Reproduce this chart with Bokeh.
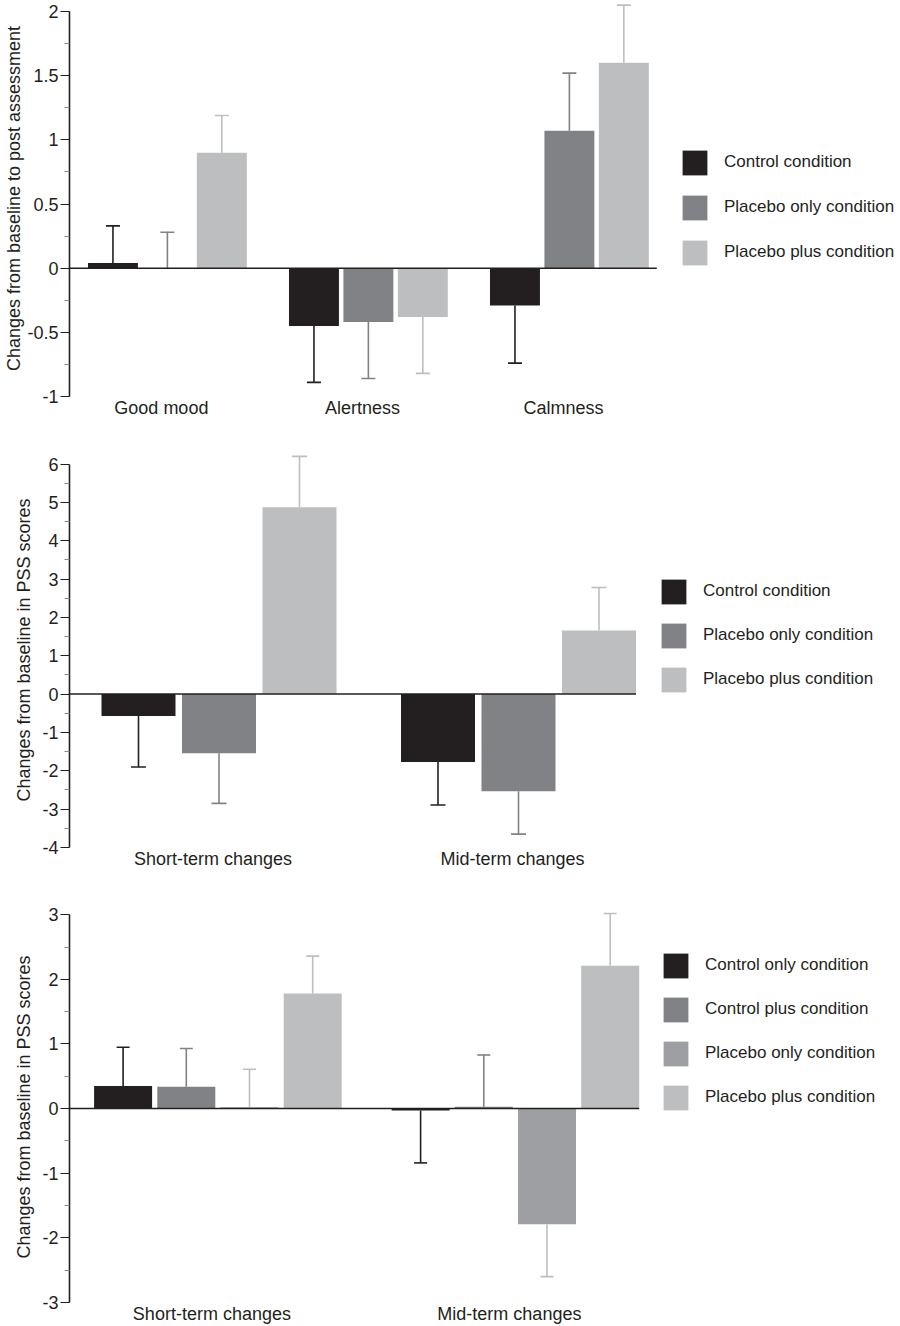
from bokeh.plotting import figure
from bokeh.models import FixedTicker, Legend, LegendItem, Range1d
from bokeh.layouts import column
from bokeh.embed import file_html
from bokeh.resources import INLINE

FONT = "Liberation Sans"
TEXT = "#231f20"
DARK = "#231f20"
MID = "#808285"
MID2 = "#9d9fa2"
LIGHT = "#bcbec0"

# ---------------- Panel 1: mood changes ----------------
mood_categories = ["Good mood", "Alertness", "Calmness"]
mood_control = [0.04, -0.45, -0.29]
mood_control_se = [0.29, 0.44, 0.45]
mood_placebo_only = [0.0, -0.42, 1.07]
mood_placebo_only_se = [0.28, 0.44, 0.45]
mood_placebo_plus = [0.90, -0.38, 1.60]
mood_placebo_plus_se = [0.29, 0.44, 0.45]
mood_labels = ["Control condition", "Placebo only condition", "Placebo plus condition"]
mood_yticks = [-1, -0.5, 0, 0.5, 1, 1.5, 2]
mood_yticklabels = ["-1", "-0.5", "0", "0.5", "1", "1.5", "2"]

# ---------------- Panel 2: PSS changes (3 conditions) ----------------
pss_categories = ["Short-term changes", "Mid-term changes"]
pss_control = [-0.57, -1.77]
pss_control_se = [1.33, 1.12]
pss_placebo_only = [-1.54, -2.53]
pss_placebo_only_se = [1.31, 1.12]
pss_placebo_plus = [4.87, 1.66]
pss_placebo_plus_se = [1.33, 1.12]
pss_labels = ["Control condition", "Placebo only condition", "Placebo plus condition"]
pss_yticks = [-4, -3, -2, -1, 0, 1, 2, 3, 4, 5, 6]
pss_yticklabels = ["-4", "-3", "-2", "-1", "0", "1", "2", "3", "4", "5", "6"]

# ---------------- Panel 3: PSS changes (4 conditions) ----------------
pss4_categories = ["Short-term changes", "Mid-term changes"]
pss4_control_only = [0.35, -0.03]
pss4_control_only_se = [0.60, 0.81]
pss4_control_plus = [0.34, 0.03]
pss4_control_plus_se = [0.59, 0.80]
pss4_placebo_only = [0.02, -1.79]
pss4_placebo_only_se = [0.59, 0.81]
pss4_placebo_plus = [1.78, 2.21]
pss4_placebo_plus_se = [0.58, 0.81]
pss4_labels = ["Control only condition", "Control plus condition",
               "Placebo only condition", "Placebo plus condition"]
pss4_yticks = [-3, -2, -1, 0, 1, 2, 3]
pss4_yticklabels = ["-3", "-2", "-1", "0", "1", "2", "3"]

W = 900


def make_panel(categories, values, ses, labels, fills, err_colors, yticks, yticklabels,
               y_end, ylabel, height, border_top, border_bottom, axis_x, first_center,
               group_px, step_px, bar_px, label_shift_px, zero_pad_px, legend_pos,
               legend_spacing, ylabel_standoff, cap_px):
    n = len(values)
    unit = group_px
    x0 = -(first_center - axis_x) / unit
    x1 = x0 + (W - axis_x) / unit
    p = figure(width=W, height=height, x_range=Range1d(x0, x1),
               y_range=Range1d(yticks[0], y_end), output_backend="svg",
               toolbar_location=None, min_border_left=axis_x, min_border_right=0,
               min_border_top=border_top, min_border_bottom=border_bottom,
               outline_line_color=None, background_fill_color="white",
               border_fill_color="white")
    p.xgrid.visible = False
    p.ygrid.visible = False

    renderers = []
    for k in range(n):
        off = (k - (n - 1) / 2) * step_px / unit
        xs = [i + off for i in range(len(categories))]
        r = p.vbar(x=xs, top=values[k], bottom=0, width=bar_px / unit,
                   fill_color=fills[k], line_color=None)
        renderers.append(r)
        ends = [v + s if v >= 0 else v - s for v, s in zip(values[k], ses[k])]
        p.segment(x0=xs, y0=values[k], x1=xs, y1=ends, line_color=err_colors[k],
                  line_width=1.6)
        p.scatter(x=xs, y=ends, marker="dash", size=cap_px, angle=0,
                  line_color=err_colors[k], line_width=1.6)

    x_end = (len(categories) - 1) + ((n - 1) / 2 * step_px + bar_px / 2 + zero_pad_px) / unit
    p.segment(x0=[x0], y0=[0], x1=[x_end], y1=[0], line_color=DARK, line_width=1.5)

    # x axis: category labels only
    tick_pos = [i - label_shift_px / unit for i in range(len(categories))]
    xa = p.xaxis[0]
    xa.ticker = FixedTicker(ticks=tick_pos, minor_ticks=[])
    xa.major_label_overrides = dict(zip(tick_pos, categories))
    xa.axis_line_color = None
    xa.major_tick_line_color = None
    xa.minor_tick_line_color = None
    xa.major_tick_out = 0
    xa.minor_tick_out = 0
    xa.major_label_standoff = 1
    xa.major_label_text_font = FONT
    xa.major_label_text_font_size = "18px"
    xa.major_label_text_color = TEXT

    ya = p.yaxis[0]
    minor = [(a + b) / 2 for a, b in zip(yticks[:-1], yticks[1:])]
    ya.ticker = FixedTicker(ticks=yticks, minor_ticks=minor)
    ya.major_label_overrides = dict(zip(yticks, yticklabels))
    ya.bounds = (yticks[0], yticks[-1])
    ya.axis_line_color = DARK
    ya.axis_line_width = 1.6
    ya.major_tick_line_color = DARK
    ya.major_tick_line_width = 1.2
    ya.major_tick_out = 9
    ya.major_tick_in = 0
    ya.minor_tick_line_color = "#8a8a8a"
    ya.minor_tick_line_width = 1
    ya.minor_tick_out = 5
    ya.minor_tick_in = 0
    ya.major_label_standoff = 2
    ya.major_label_text_font = FONT
    ya.major_label_text_font_size = "18px"
    ya.major_label_text_color = TEXT
    ya.axis_label = ylabel
    ya.axis_label_text_font = FONT
    ya.axis_label_text_font_size = "18px"
    ya.axis_label_text_font_style = "normal"
    ya.axis_label_text_color = TEXT
    ya.axis_label_standoff = ylabel_standoff

    # legend glyph area 31px -> drawn square ~25px (10% inset each side)
    items = [LegendItem(label=lab, renderers=[r]) for lab, r in zip(labels, renderers)]
    legend = Legend(items=items, location=legend_pos, orientation="vertical",
                    glyph_width=31, glyph_height=31, label_height=25,
                    spacing=legend_spacing, label_standoff=14, padding=0, margin=0,
                    border_line_alpha=0, background_fill_alpha=0,
                    label_text_font=FONT, label_text_font_size="17px",
                    label_text_color=TEXT)
    p.add_layout(legend)
    return p


p1 = make_panel(mood_categories,
                [mood_control, mood_placebo_only, mood_placebo_plus],
                [mood_control_se, mood_placebo_only_se, mood_placebo_plus_se],
                mood_labels, [DARK, MID, LIGHT], [DARK, MID, LIGHT],
                mood_yticks, mood_yticklabels, 2.086,
                "Changes from baseline to post assessment",
                height=440, border_top=0, border_bottom=44, axis_x=68, first_center=166,
                group_px=201.25, step_px=54.5, bar_px=50, label_shift_px=6,
                zero_pad_px=8, legend_pos=(610, 128.4), legend_spacing=14,
                ylabel_standoff=0, cap_px=14)

p2 = make_panel(pss_categories,
                [pss_control, pss_placebo_only, pss_placebo_plus],
                [pss_control_se, pss_placebo_only_se, pss_placebo_plus_se],
                pss_labels, [DARK, MID, LIGHT], [DARK, MID, LIGHT],
                pss_yticks, pss_yticklabels, 6.3,
                "Changes from baseline in PSS scores",
                height=445, border_top=12, border_bottom=38, axis_x=69, first_center=218.5,
                group_px=299.5, step_px=80.5, bar_px=74, label_shift_px=6,
                zero_pad_px=0, legend_pos=(589, 152.4), legend_spacing=13,
                ylabel_standoff=5, cap_px=15)

p3 = make_panel(pss4_categories,
                [pss4_control_only, pss4_control_plus, pss4_placebo_only, pss4_placebo_plus],
                [pss4_control_only_se, pss4_control_plus_se, pss4_placebo_only_se,
                 pss4_placebo_plus_se],
                pss4_labels, [DARK, MID, MID2, LIGHT], [DARK, MID, LIGHT, LIGHT],
                pss4_yticks, pss4_yticklabels, 3.05,
                "Changes from baseline in PSS scores",
                height=441, border_top=26, border_bottom=22, axis_x=69, first_center=217.4,
                group_px=297.5, step_px=63.2, bar_px=58, label_shift_px=6,
                zero_pad_px=0, legend_pos=(591, 189.4), legend_spacing=13,
                ylabel_standoff=5, cap_px=13)

layout = column(p1, p2, p3)

open("out.html", "w").write(file_html(layout, INLINE))
